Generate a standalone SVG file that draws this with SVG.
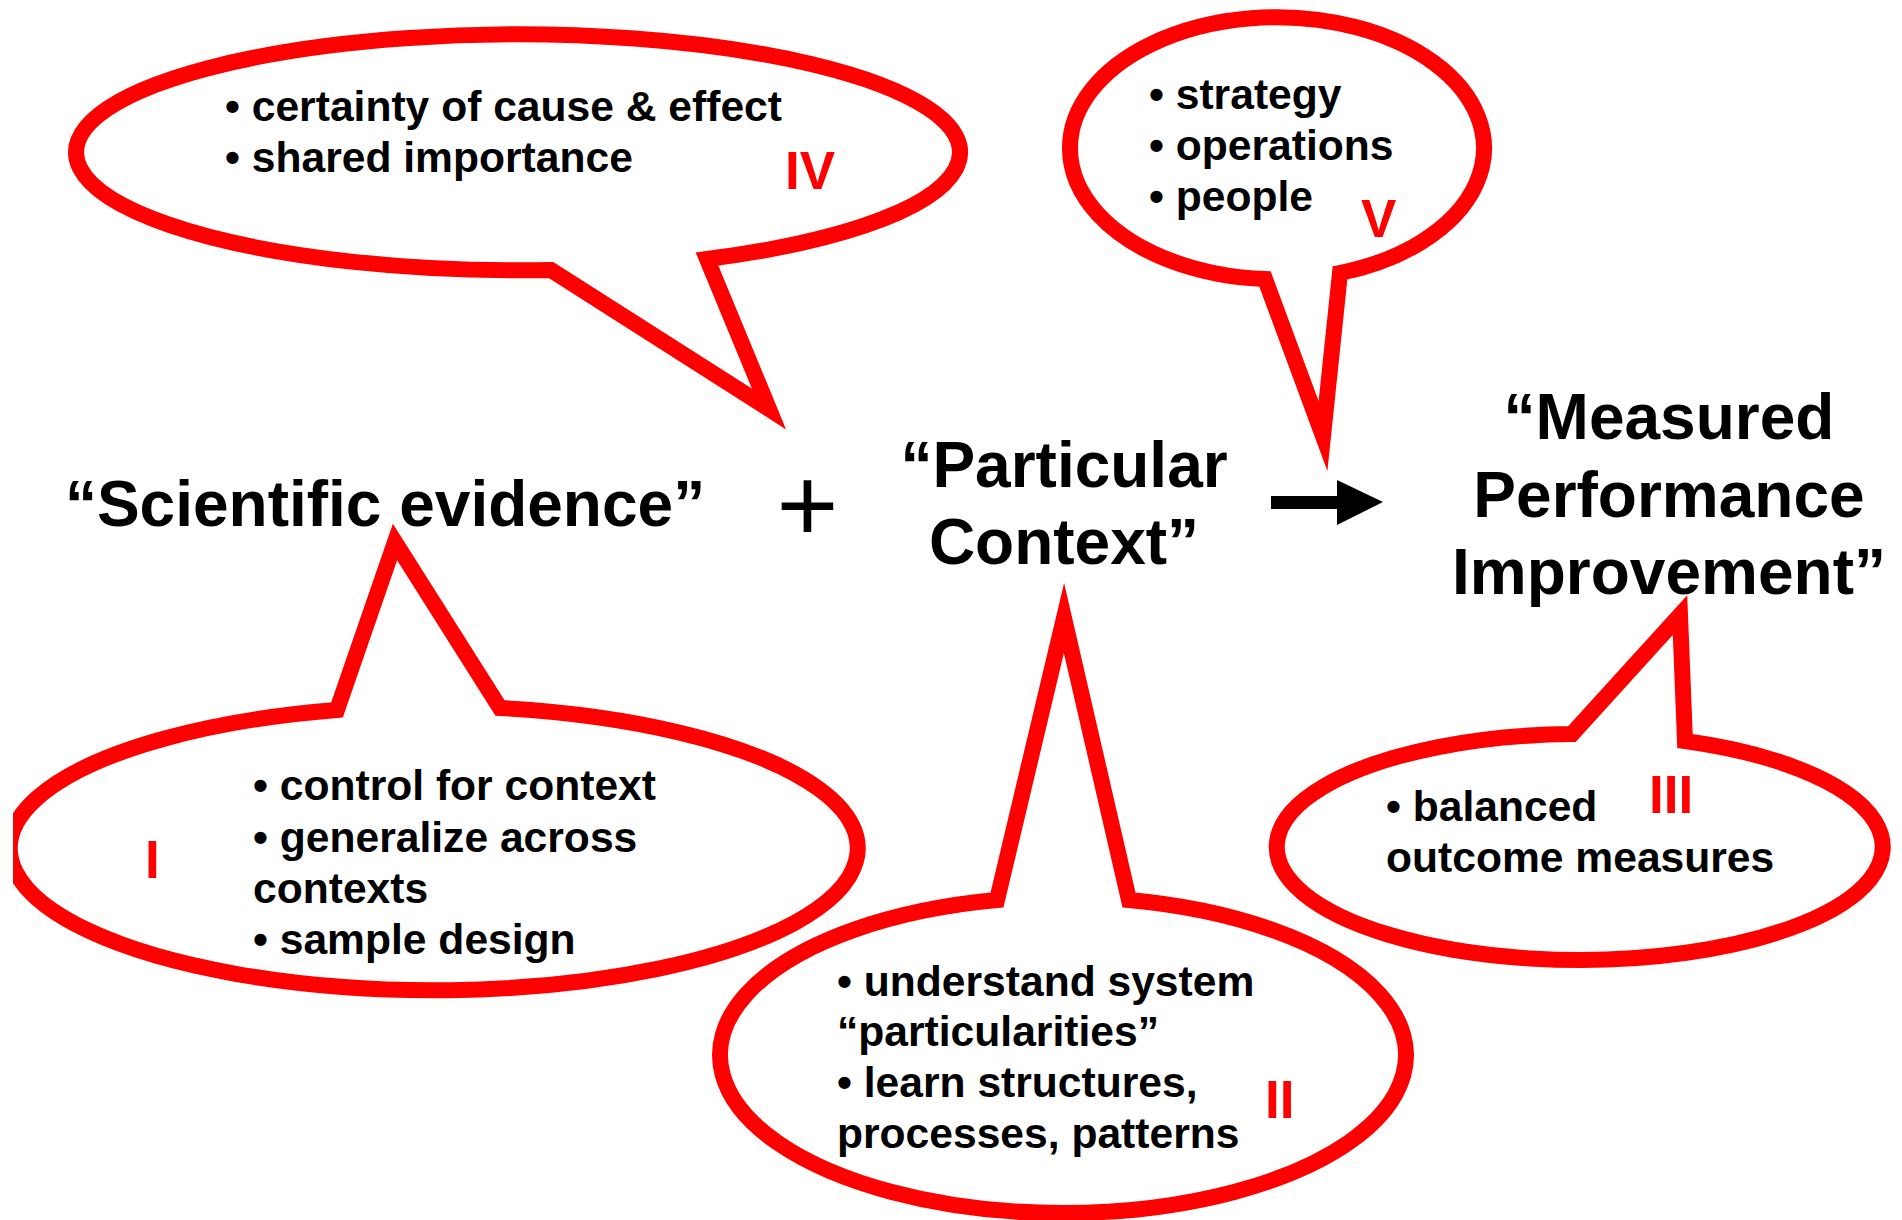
<svg xmlns="http://www.w3.org/2000/svg" width="1902" height="1220" viewBox="0 0 1902 1220">
<style>
.bub{fill:none;stroke:#FF0000;stroke-width:16;stroke-linejoin:miter;stroke-miterlimit:10}
.t{font-family:"Liberation Sans",Arial,sans-serif;font-weight:bold;font-size:42.6px;fill:#000}
.h{font-family:"Liberation Sans",Arial,sans-serif;font-weight:bold;font-size:64px;fill:#000;text-anchor:middle}
.r{font-family:"Liberation Sans",Arial,sans-serif;font-weight:bold;font-size:53px;fill:#FF0000}
</style>
<defs>
<clipPath id="clipL"><rect x="13" y="0" width="1889" height="1220"/></clipPath>
</defs>
<rect x="0" y="0" width="1902" height="1220" fill="#fff"/>

<g id="bubble-IV">
<path class="bub" d="M 707 259 L 769 409 L 551 270 A 442 118 0 1 1 707 259 Z"/>
<text class="t" x="225" y="121">• certainty of cause &amp; effect</text>
<text class="t" x="225" y="172">• shared importance</text>
<text class="r" x="785" y="189">IV</text>
</g>

<g id="bubble-V">
<path class="bub" d="M 1340 273 L 1323 436 L 1265 279 A 207 131 0 1 1 1340 273 Z"/>
<text class="t" x="1149" y="109">• strategy</text>
<text class="t" x="1149" y="160">• operations</text>
<text class="t" x="1149" y="211">• people</text>
<text class="r" x="1361" y="237">V</text>
</g>

<g id="bubble-I" clip-path="url(#clipL)">
<path class="bub" d="M 337 710 L 395 542 L 500 708 A 424 142 0 1 1 337 710 Z"/>
<text class="t" x="253" y="800">• control for context</text>
<text class="t" x="253" y="852">• generalize across</text>
<text class="t" x="253" y="903">contexts</text>
<text class="t" x="253" y="954">• sample design</text>
<text class="r" x="145" y="878">I</text>
</g>

<g id="bubble-II">
<path class="bub" d="M 997 900 L 1064 618 L 1129 900 A 343 158 0 1 1 997 900 Z"/>
<text class="t" x="837" y="996">• understand system</text>
<text class="t" x="837" y="1046">“particularities”</text>
<text class="t" x="837" y="1097">• learn structures,</text>
<text class="t" x="837" y="1148">processes, patterns</text>
<text class="r" x="1265" y="1118">II</text>
</g>

<g id="bubble-III">
<path class="bub" d="M 1572 734 L 1680 615 L 1685 741 A 303 113 0 1 1 1572 734 Z"/>
<text class="t" x="1386" y="821">• balanced</text>
<text class="t" x="1386" y="872">outcome measures</text>
<text class="r" x="1649" y="813">III</text>
</g>

<g id="node-scientific-evidence">
<text class="h" x="385" y="526">“Scientific evidence”</text>
</g>

<g id="node-plus">
<text x="807.5" y="541" font-family="Liberation Sans, Arial, sans-serif" font-size="106" text-anchor="middle" fill="#000">+</text>
</g>

<g id="node-particular-context">
<text class="h" x="1064" y="487">“Particular</text>
<text class="h" x="1064" y="564">Context”</text>
</g>

<g id="node-measured-performance">
<text class="h" x="1669" y="439">“Measured</text>
<text class="h" x="1669" y="517">Performance</text>
<text class="h" x="1669" y="594">Improvement”</text>
</g>

<g id="connectors">
<path d="M 1271 496 L 1337 496 L 1337 480 L 1383 502 L 1337 525 L 1337 509 L 1271 509 Z" fill="#000"/>
</g>
</svg>
